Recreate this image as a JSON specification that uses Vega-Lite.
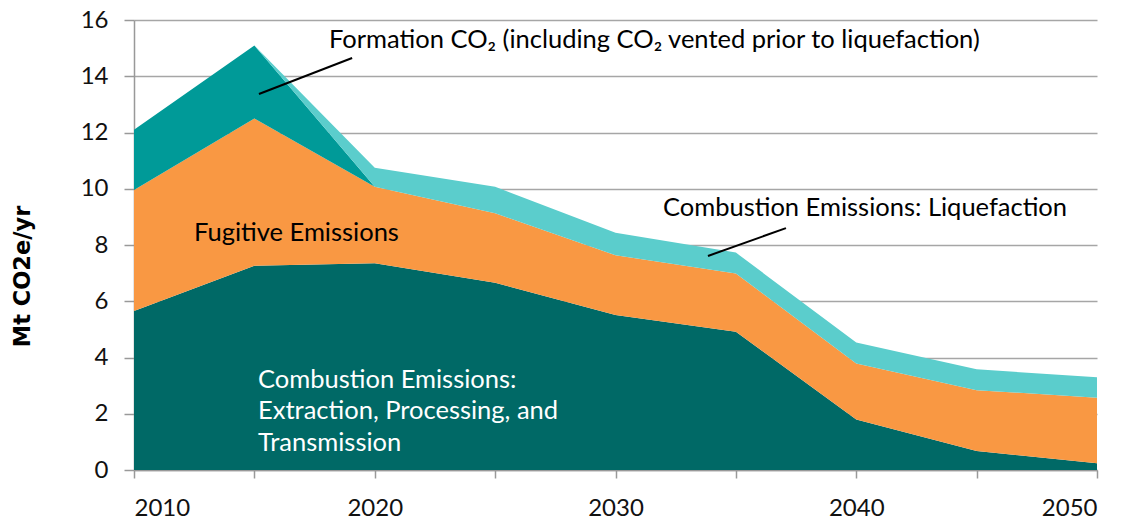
{
  "$schema": "https://vega.github.io/schema/vega-lite/v6.json",
  "width": 963,
  "height": 450,
  "autosize": "none",
  "padding": {"left": 134, "top": 20, "right": 39, "bottom": 52},
  "background": "white",
  "config": {"view": {"stroke": null}, "font": "Lato"},
  "datasets": {
    "series": [
      {"year": 2010, "series": "Extraction", "rank": 1, "value": 5.65},
      {"year": 2015, "series": "Extraction", "rank": 1, "value": 7.26},
      {"year": 2020, "series": "Extraction", "rank": 1, "value": 7.35},
      {"year": 2025, "series": "Extraction", "rank": 1, "value": 6.66},
      {"year": 2030, "series": "Extraction", "rank": 1, "value": 5.51},
      {"year": 2035, "series": "Extraction", "rank": 1, "value": 4.92},
      {"year": 2040, "series": "Extraction", "rank": 1, "value": 1.80},
      {"year": 2045, "series": "Extraction", "rank": 1, "value": 0.68},
      {"year": 2050, "series": "Extraction", "rank": 1, "value": 0.24},
      {"year": 2010, "series": "Fugitive", "rank": 2, "value": 4.31},
      {"year": 2015, "series": "Fugitive", "rank": 2, "value": 5.24},
      {"year": 2020, "series": "Fugitive", "rank": 2, "value": 2.72},
      {"year": 2025, "series": "Fugitive", "rank": 2, "value": 2.47},
      {"year": 2030, "series": "Fugitive", "rank": 2, "value": 2.13},
      {"year": 2035, "series": "Fugitive", "rank": 2, "value": 2.07},
      {"year": 2040, "series": "Fugitive", "rank": 2, "value": 1.99},
      {"year": 2045, "series": "Fugitive", "rank": 2, "value": 2.16},
      {"year": 2050, "series": "Fugitive", "rank": 2, "value": 2.33},
      {"year": 2010, "series": "Formation", "rank": 3, "value": 2.14},
      {"year": 2015, "series": "Formation", "rank": 3, "value": 2.59},
      {"year": 2020, "series": "Formation", "rank": 3, "value": 0},
      {"year": 2025, "series": "Formation", "rank": 3, "value": 0},
      {"year": 2030, "series": "Formation", "rank": 3, "value": 0},
      {"year": 2035, "series": "Formation", "rank": 3, "value": 0},
      {"year": 2040, "series": "Formation", "rank": 3, "value": 0},
      {"year": 2045, "series": "Formation", "rank": 3, "value": 0},
      {"year": 2050, "series": "Formation", "rank": 3, "value": 0},
      {"year": 2010, "series": "Liquefaction", "rank": 4, "value": 0},
      {"year": 2015, "series": "Liquefaction", "rank": 4, "value": 0},
      {"year": 2020, "series": "Liquefaction", "rank": 4, "value": 0.68},
      {"year": 2025, "series": "Liquefaction", "rank": 4, "value": 0.94},
      {"year": 2030, "series": "Liquefaction", "rank": 4, "value": 0.80},
      {"year": 2035, "series": "Liquefaction", "rank": 4, "value": 0.74},
      {"year": 2040, "series": "Liquefaction", "rank": 4, "value": 0.74},
      {"year": 2045, "series": "Liquefaction", "rank": 4, "value": 0.74},
      {"year": 2050, "series": "Liquefaction", "rank": 4, "value": 0.73}
    ],
    "labels": [
      {"x": 2018.1, "y": 15.29, "text": "Formation CO₂ (including  CO₂ vented prior to liquefaction)", "kind": "dark"},
      {"x": 2031.97, "y": 9.32, "text": "Combustion Emissions: Liquefaction", "kind": "dark"},
      {"x": 2012.49, "y": 8.43, "text": "Fugitive Emissions", "kind": "dark"},
      {"x": 2015.15, "y": 3.2, "text": "Combustion Emissions:", "kind": "light"},
      {"x": 2015.15, "y": 2.1, "text": "Extraction, Processing, and", "kind": "light"},
      {"x": 2015.15, "y": 0.96, "text": "Transmission", "kind": "light"}
    ],
    "leaders": [
      {"x": 2019.06, "y": 14.65, "x2": 2015.19, "y2": 13.37},
      {"x": 2037.08, "y": 8.6, "x2": 2033.84, "y2": 7.61}
    ]
  },
  "layer": [
    {
      "data": {"name": "series"},
      "mark": {"type": "area", "interpolate": "linear"},
      "encoding": {
        "x": {
          "field": "year", "type": "quantitative",
          "scale": {"domain": [2010, 2050], "nice": false},
          "axis": {
            "title": null, "values": [2010, 2015, 2020, 2025, 2030, 2035, 2040, 2045, 2050],
            "format": "d",
            "labelExpr": "datum.value % 10 === 0 ? datum.label : ''",
            "grid": false, "domainColor": "#999999", "domainWidth": 1.5,
            "tickColor": "#999999", "tickWidth": 1.5, "tickSize": 8,
            "labelFontSize": 24, "labelColor": "#111111", "labelPadding": 18,
            "labelFont": "Lato"
          }
        },
        "y": {
          "field": "value", "type": "quantitative", "stack": "zero",
          "scale": {"domain": [0, 16], "nice": false},
          "axis": {
            "title": "Mt CO2e/yr", "titleFontSize": 22.5, "titleFontWeight": "bold",
            "titleColor": "#000000", "titleFont": "DejaVu Sans",
            "titleX": -112, "titleY": 256, "titleBaseline": "middle", "titleAlign": "center", "titleAngle": 270,
            "values": [0, 2, 4, 6, 8, 10, 12, 14, 16],
            "grid": true, "gridColor": "#A6A6A6", "gridWidth": 1.5,
            "domainColor": "#999999", "domainWidth": 1.5,
            "tickColor": "#999999", "tickWidth": 1.5, "tickSize": 10,
            "labelFontSize": 24, "labelColor": "#111111", "labelPadding": 16,
            "labelFont": "Lato"
          }
        },
        "color": {
          "field": "series", "type": "nominal",
          "scale": {
            "domain": ["Extraction", "Fugitive", "Formation", "Liquefaction"],
            "range": ["#006966", "#F99843", "#009A98", "#5BCDCC"]
          },
          "legend": null
        },
        "order": {"field": "rank", "type": "quantitative"}
      }
    },
    {
      "data": {"name": "leaders"},
      "mark": {"type": "rule", "color": "#000000", "strokeWidth": 2},
      "encoding": {
        "x": {"field": "x", "type": "quantitative"},
        "y": {"field": "y", "type": "quantitative"},
        "x2": {"field": "x2"},
        "y2": {"field": "y2"}
      }
    },
    {
      "data": {"name": "labels"},
      "mark": {"type": "text", "align": "left", "baseline": "middle", "fontSize": 25.5, "font": "Lato"},
      "encoding": {
        "x": {"field": "x", "type": "quantitative"},
        "y": {"field": "y", "type": "quantitative"},
        "text": {"field": "text"},
        "color": {
          "field": "kind", "type": "nominal",
          "scale": {"domain": ["dark", "light"], "range": ["#000000", "#FFFFFF"]},
          "legend": null
        }
      }
    }
  ],
  "resolve": {"scale": {"color": "independent"}}
}
